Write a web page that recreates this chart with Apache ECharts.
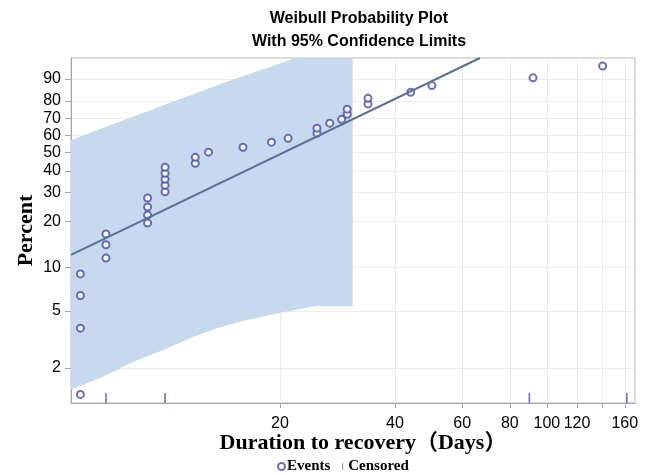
<!DOCTYPE html>
<html>
<head>
<meta charset="utf-8">
<script src="https://cdn.jsdelivr.net/npm/echarts@6/dist/echarts.min.js"></script>
<style>
html, body { margin: 0; padding: 0; background: #fff; }
#chart { width: 646px; height: 474px; }
</style>
</head>
<body>
<div id="chart"></div>
<script>
// observed event times (days) and their plotting positions (percent)
const eventDays = [6, 6, 6, 6, 7, 7, 7, 9, 9, 9, 9, 10, 10, 10, 10, 10, 12, 12, 13, 16, 19, 21, 25, 25, 27, 29, 30, 30, 34, 34, 44, 50, 92, 140];
const eventPct = [1.3, 3.8, 6.4, 9.0, 11.5, 14.1, 16.6, 19.5, 21.9, 24.6, 27.9, 30.4, 33.2, 35.9, 38.8, 41.8, 43.9, 47.1, 50.0, 52.8, 55.8, 58.1, 61.2, 64.2, 67.2, 69.5, 72.5, 75.4, 78.3, 81.3, 84.3, 87.3, 90.4, 94.2];
const censoredDays = [7, 10, 90, 162];

// fitted weibull line (end points)
const fitDays = [5.67, 66.8];
const fitPct = [12.1, 96.1];

// 95% confidence band
const upperDays = [5.67, 8.6, 13.9, 21.9, 31];
const upperPct = [57.1, 72.7, 87.9, 96.05, 98.9];
const lowerDays = [5.67, 6.89, 8.26, 9.9, 11.63, 13.65, 16.2, 20, 24.9, 31];
const lowerPct = [1.41, 1.73, 2.21, 2.67, 3.23, 3.79, 4.29, 4.87, 5.42, 5.42];

// axes
const yTicks = [2, 5, 10, 20, 30, 40, 50, 60, 70, 80, 90];
const xTicks = [20, 40, 60, 80, 100, 120, 140, 160];
const xLabels = [20, 40, 60, 80, 100, 120, 160];
const dayRange = [5.67, 170.2];
const pctRange = [1.13, 96.1];

// weibull probability scale and log time scale
const wb = p => Math.log(-Math.log(1 - p / 100));
const lg = d => Math.log10(d);

const yMin = wb(pctRange[0]);
const bandPts = upperDays.map((d, i) => [lg(d), wb(upperPct[i])])
  .concat(lowerDays.map((d, i) => [lg(d), wb(lowerPct[i])]).reverse());

const serif = "'Liberation Serif', 'Noto Sans CJK SC', serif";
const sans = "'Liberation Sans', Arial, sans-serif";
const navy = '#4a4ca6';

let chart = echarts.init(document.getElementById('chart'));
let option = {
  animation: false,
  title: {
    text: 'Weibull Probability Plot\nWith 95% Confidence Limits',
    left: 354,
    top: 2,
    textAlign: 'center',
    textStyle: { fontFamily: sans, fontSize: 16, fontWeight: 'bold', color: '#000', lineHeight: 23 },
  },
  legend: {
    left: 272,
    top: 454,
    itemWidth: 7,
    itemHeight: 7,
    itemGap: 12,
    textStyle: { fontFamily: serif, fontWeight: 'bold', fontSize: 15, color: '#000', padding: [0, 0, 0, -3] },
    data: [
      { name: 'Events', icon: 'emptyCircle' },
      { name: 'Censored', icon: 'path://M0,0H1.2V10H0Z' },
    ],
  },
  grid: {
    left: 71,
    right: 11,
    top: 58,
    bottom: 71,
    show: true,
    borderColor: '#b8b8b8',
    borderWidth: 1,
  },
  xAxis: {
    type: 'value',
    min: lg(dayRange[0]),
    max: lg(dayRange[1]),
    name: 'Duration to recovery（Days）',
    nameLocation: 'middle',
    nameGap: 29,
    nameMoveOverlap: false,
    nameTextStyle: { fontFamily: serif, fontWeight: 'bold', fontSize: 22, color: '#000', padding: [0, 0, 0, 20] },
    axisLine: { onZero: false, lineStyle: { color: '#a8a8a8' } },
    axisTick: { show: true, length: 5, lineStyle: { color: '#a8a8a8' }, customValues: xTicks.map(lg) },
    axisLabel: {
      customValues: xLabels.map(lg),
      formatter: v => String(Math.round(Math.pow(10, v))),
      fontFamily: sans, fontSize: 16, color: '#000', margin: 13,
    },
    splitLine: { show: true, lineStyle: { color: '#ececec' } },
  },
  yAxis: {
    type: 'value',
    min: yMin,
    max: wb(pctRange[1]),
    name: 'Percent',
    nameLocation: 'middle',
    nameRotate: 90,
    nameGap: 34,
    nameMoveOverlap: false,
    nameTextStyle: { fontFamily: serif, fontWeight: 'bold', fontSize: 22, color: '#000' },
    axisLine: { show: true, onZero: false, lineStyle: { color: '#a8a8a8' } },
    axisTick: { show: true, length: 6, lineStyle: { color: '#a8a8a8' }, customValues: yTicks.map(wb) },
    axisLabel: {
      customValues: yTicks.map(wb),
      formatter: v => String(Math.round(100 * (1 - Math.exp(-Math.exp(v))))),
      fontFamily: sans, fontSize: 16, color: '#000', margin: 10,
    },
    splitLine: { show: true, lineStyle: { color: '#ececec' } },
  },
  series: [
    {
      name: 'band',
      type: 'custom',
      clip: true,
      silent: true,
      data: [0],
      renderItem: function (params, api) {
        let pts = bandPts.map(p => api.coord(p));
        return { type: 'polygon', shape: { points: pts }, style: { fill: '#c8d8ee' } };
      },
    },
    {
      name: 'fit',
      type: 'line',
      data: fitDays.map((d, i) => [lg(d), wb(fitPct[i])]),
      showSymbol: false,
      lineStyle: { color: '#5b7192', width: 2 },
    },
    {
      name: 'Events',
      type: 'scatter',
      symbol: 'emptyCircle',
      symbolSize: 7,
      itemStyle: { color: navy, borderWidth: 1.5 },
      data: eventDays.map((d, i) => [lg(d), wb(eventPct[i])]),
    },
    {
      name: 'Censored',
      type: 'scatter',
      clip: false,
      symbol: 'rect',
      symbolSize: [1.6, 10],
      symbolOffset: [0, -5],
      itemStyle: { color: navy },
      data: censoredDays.map(d => [lg(d), yMin]),
    },
  ],
};
chart.setOption(option);
</script>
</body>
</html>
